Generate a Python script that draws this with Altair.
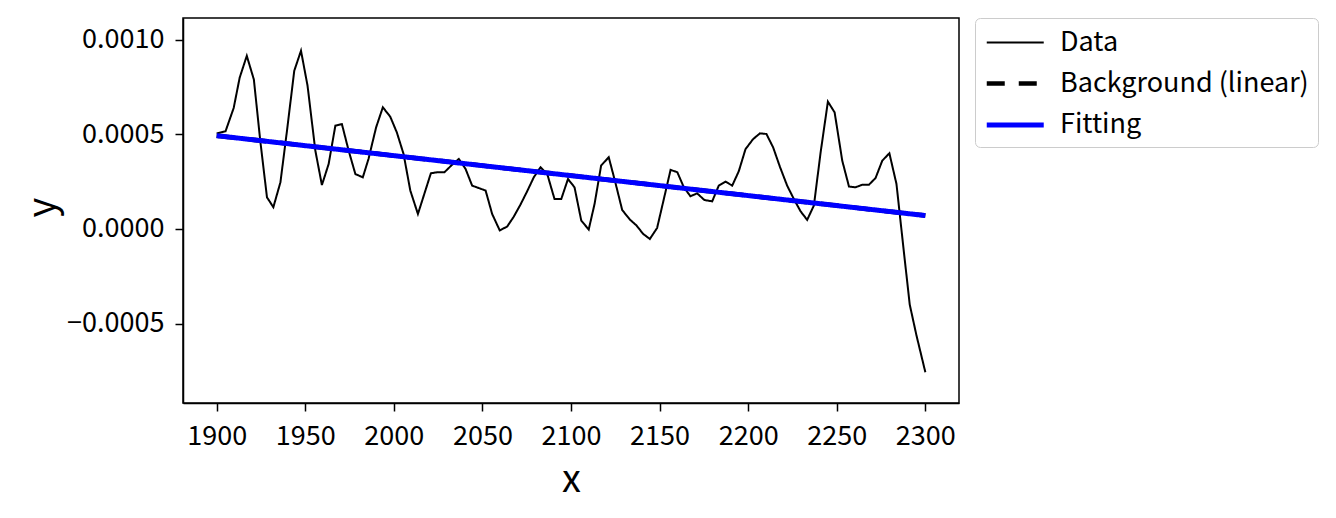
import altair as alt
import pandas as pd

FONT = "Noto Sans CJK JP"

series_names = ["Data", "Background (linear)", "Fitting"]
series_colors = ["black", "black", "blue"]
series_dashes = [[1, 0], [18, 14], [1, 0]]
series_widths = [2, 4.5, 5]

data_x = [1900.0, 1905.0, 1909.6, 1913.0, 1917.0, 1921.0, 1924.6, 1928.4, 1932.0, 1936.0,
          1939.7, 1943.8, 1947.6, 1951.3, 1955.7, 1959.4, 1963.2, 1967.0, 1970.7, 1974.5,
          1978.3, 1982.5, 1985.7, 1990.0, 1993.8, 1998.0, 2001.7, 2005.5, 2009.3, 2013.6,
          2017.2, 2020.9, 2024.5, 2028.6, 2032.4, 2036.7, 2040.5, 2044.2, 2048.0, 2051.8,
          2055.5, 2059.8, 2064.0, 2067.7, 2071.5, 2075.3, 2079.0, 2082.8, 2086.6, 2090.7,
          2094.5, 2098.3, 2102.0, 2105.8, 2110.0, 2113.3, 2117.0, 2121.3, 2125.0, 2128.9,
          2133.2, 2137.0, 2140.7, 2144.5, 2148.6, 2152.4, 2156.2, 2160.0, 2163.7, 2167.4,
          2171.2, 2175.3, 2179.7, 2183.4, 2187.2, 2191.0, 2194.7, 2198.5, 2202.8, 2206.6,
          2210.3, 2214.1, 2217.9, 2222.0, 2225.8, 2229.6, 2233.3, 2237.1, 2240.9, 2245.0,
          2248.8, 2253.1, 2256.9, 2260.6, 2264.4, 2268.2, 2271.9, 2275.7, 2279.7, 2283.7,
          2287.8, 2291.2, 2295.0, 2300.0]
data_y = [0.000505, 0.000516, 0.000639, 0.000800, 0.000915, 0.000790, 0.000467, 0.000167, 0.000115, 0.000247,
          0.000520, 0.000836, 0.000942, 0.000757, 0.000414, 0.000232, 0.000343, 0.000546, 0.000554, 0.000414,
          0.000290, 0.000273, 0.000370, 0.000537, 0.000643, 0.000593, 0.000510, 0.000396, 0.000203, 0.000079,
          0.000185, 0.000294, 0.000300, 0.000300, 0.000335, 0.000370, 0.000317, 0.000229, 0.000216, 0.000203,
          0.000079, -0.000008, 0.000013, 0.000065, 0.000129, 0.000200, 0.000273, 0.000326, 0.000290, 0.000158,
          0.000158, 0.000264, 0.000220, 0.000044, -0.000003, 0.000132, 0.000335, 0.000379, 0.000247, 0.000100,
          0.000050, 0.000018, -0.000026, -0.000053, 0.000005, 0.000158, 0.000312, 0.000300, 0.000220, 0.000173,
          0.000188, 0.000153, 0.000146, 0.000229, 0.000250, 0.000229, 0.000305, 0.000422, 0.000475, 0.000505,
          0.000502, 0.000431, 0.000329, 0.000229, 0.000158, 0.000093, 0.000048, 0.000124, 0.000405, 0.000673,
          0.000616, 0.000361, 0.000224, 0.000220, 0.000234, 0.000234, 0.000269, 0.000361, 0.000400, 0.000238,
          -0.000114, -0.000400, -0.000563, -0.000757]

bg_x = [1900.0, 2300.0]
bg_y = [0.000493, 0.0000707]

fit_x = [1900.0, 2300.0]
fit_y = [0.000493, 0.0000707]

x_ticks = [1900, 1950, 2000, 2050, 2100, 2150, 2200, 2250, 2300]
y_ticks = [-0.0005, 0.0, 0.0005, 0.0010]

rows = []
for s, xs, ys in [("Data", data_x, data_y), ("Background (linear)", bg_x, bg_y), ("Fitting", fit_x, fit_y)]:
    for xv, yv in zip(xs, ys):
        rows.append({"x": xv, "y": yv, "series": s})
df = pd.DataFrame(rows)

legend = alt.Legend(
    title=None, orient="none", legendX=792, legendY=0,
    symbolType="M-1,0H3", symbolSize=812,
    labelFont=FONT, labelFontSize=27, labelColor="black", labelLimit=400,
    strokeColor="#cccccc", cornerRadius=5, fillColor="white",
    padding=9, rowPadding=11, labelOffset=42,
)

x_enc = alt.X("x:Q", scale=alt.Scale(domain=[1881, 2319], nice=False, zero=False),
              axis=alt.Axis(values=x_ticks, format="d", title="x",
                            labelBaseline="alphabetic", labelPadding=33,
                            titleBaseline="middle", titleY=77))
y_enc = alt.Y("y:Q", scale=alt.Scale(domain=[-0.00092, 0.001115], nice=False, zero=False),
              axis=alt.Axis(values=y_ticks, format=".4f", title="y", labelPadding=11,
                            titleX=-140, titleY=189, titleBaseline="middle"))
color_enc = alt.Color("series:N", scale=alt.Scale(domain=series_names, range=series_colors), legend=legend)
dash_enc = alt.StrokeDash("series:N", scale=alt.Scale(domain=series_names, range=series_dashes), legend=legend)
width_enc = alt.StrokeWidth("series:N", scale=alt.Scale(type="ordinal", domain=series_names, range=series_widths), legend=legend)

base = alt.Chart(df).mark_line(strokeCap="butt").encode(
    x=x_enc, y=y_enc, color=color_enc, strokeDash=dash_enc, strokeWidth=width_enc
)

layers = [base.transform_filter(alt.datum.series == s) for s in series_names]

chart = alt.layer(*layers).properties(
    width=776, height=385,
    background="white",
    autosize=alt.AutoSizeParams(type="none"),
    padding={"left": 183, "top": 18, "right": 377, "bottom": 115},
).configure_view(
    stroke="black", strokeWidth=1.5
).configure_axis(
    grid=False, domainColor="black", domainWidth=1.5, tickColor="black", tickWidth=1.5,
    tickSize=8, labelFont=FONT, labelFontSize=27, labelColor="black",
    titleFont=FONT, titleFontSize=38, titleFontWeight="normal", titleColor="black",
)

chart.save("out.html", embed_options={"renderer": "svg", "actions": False})
